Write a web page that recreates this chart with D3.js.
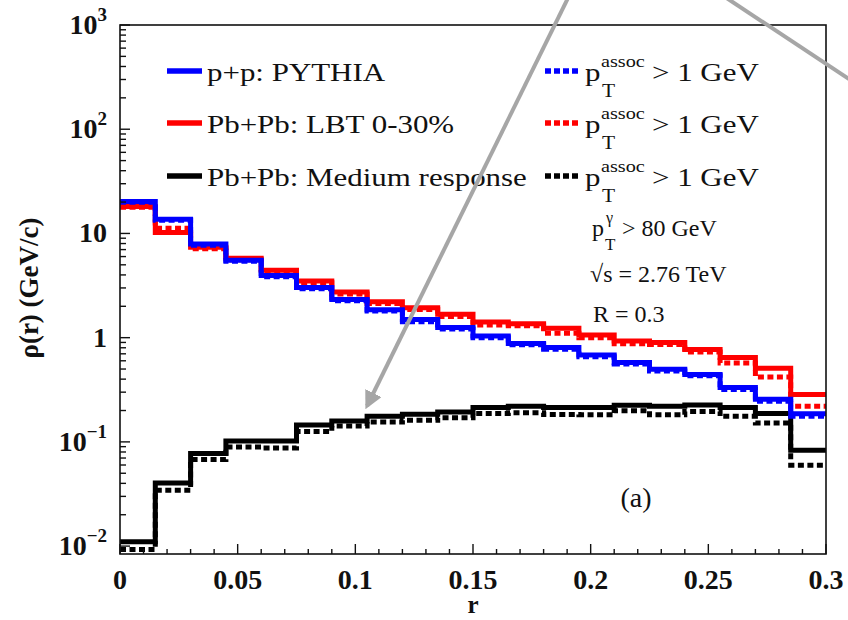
<!DOCTYPE html>
<html>
<head>
  <meta charset="utf-8">
  <script src="https://cdn.jsdelivr.net/npm/d3@7"></script>
  <style type="text/css">
    body { margin: 0; background: #fff; }
    text { font-family: "Liberation Serif", "Times New Roman", serif; fill: #111; }
  </style>
</head>
<body>
<div id="chart"></div>
<script type="text/javascript">
// bin lower edges in r, last edge is rMax
var binLow = [0, 0.015, 0.03, 0.045, 0.06, 0.075, 0.09, 0.105, 0.12, 0.135,
              0.15, 0.165, 0.18, 0.195, 0.21, 0.225, 0.24, 0.255, 0.27, 0.285];
var rMax = 0.3;

var ppSolid  = [20.2, 13.7, 7.9, 5.54, 3.95, 3.03, 2.33, 1.85, 1.49, 1.25,
                1.04, 0.88, 0.805, 0.68, 0.578, 0.499, 0.443, 0.333, 0.257, 0.186];
var ppDotted = [19.9, 13.4, 7.7, 5.4, 3.85, 2.95, 2.26, 1.8, 1.42, 1.21,
                1.0, 0.855, 0.775, 0.655, 0.56, 0.48, 0.43, 0.318, 0.245, 0.176];
var lbtSolid  = [18.1, 10.2, 7.39, 5.79, 4.44, 3.49, 2.75, 2.21, 1.94, 1.68,
                 1.41, 1.36, 1.23, 1.06, 0.93, 0.90, 0.77, 0.645, 0.51, 0.285];
var lbtDotted = [17.8, 11.2, 7.15, 5.6, 4.3, 3.37, 2.63, 2.13, 1.86, 1.6,
                 1.32, 1.30, 1.10, 1.0, 0.875, 0.86, 0.73, 0.57, 0.42, 0.22];
var medSolid  = [0.011, 0.0404, 0.0774, 0.102, 0.102, 0.145, 0.159, 0.176, 0.184, 0.194,
                 0.214, 0.22, 0.214, 0.214, 0.225, 0.22, 0.226, 0.214, 0.187, 0.0833];
var medDotted = [0.0093, 0.0344, 0.0678, 0.0895, 0.0876, 0.126, 0.142, 0.155, 0.161, 0.17,
                 0.187, 0.19, 0.183, 0.182, 0.199, 0.182, 0.196, 0.176, 0.152, 0.0598];

var xMajor = [0, 0.05, 0.1, 0.15, 0.2, 0.25, 0.3];
var xMinor = [0.01, 0.02, 0.03, 0.04, 0.06, 0.07, 0.08, 0.09, 0.11, 0.12, 0.13, 0.14,
              0.16, 0.17, 0.18, 0.19, 0.21, 0.22, 0.23, 0.24, 0.26, 0.27, 0.28, 0.29];
var yMajor = [0.01, 0.1, 1, 10, 100, 1000];
var yExp   = ["\u22122", "\u22121", "", "", "2", "3"];

var legendLeft  = ["p+p: PYTHIA", "Pb+Pb: LBT 0-30%", "Pb+Pb: Medium response"];
var legendColor = ["#0000ff", "#ff0000", "#000000"];

var W = 848, H = 620;
var pL = 120, pR = 826, pT = 25, pB = 554;

var svg = d3.select("#chart").append("svg")
    .attr("width", W).attr("height", H);

var x = d3.scaleLinear().domain([0, rMax]).range([pL, pR]);
var y = d3.scaleLog().domain([0.0084, 1000]).range([pB, pT]);

// step line through bins
var line = d3.line()
    .x(function(d) { return x(d[0]); })
    .y(function(d) { return y(d[1]); })
    .curve(d3.curveStepAfter);

function steps(vals) {
  var pts = binLow.map(function(r, i) { return [r, vals[i]]; });
  pts.push([rMax, vals[vals.length - 1]]);
  return pts;
}

function drawHist(vals, color, dotted) {
  svg.append("path")
    .attr("d", line(steps(vals)))
    .attr("fill", "none")
    .attr("stroke", color)
    .attr("stroke-width", 5)
    .attr("stroke-dasharray", dotted ? "6,3.5" : null);
}

drawHist(medDotted, "#000", true);
drawHist(medSolid, "#000", false);
drawHist(lbtDotted, "#ff0000", true);
drawHist(lbtSolid, "#ff0000", false);
drawHist(ppDotted, "#0000ff", true);
drawHist(ppSolid, "#0000ff", false);

// frame
svg.append("rect")
  .attr("x", pL).attr("y", pT)
  .attr("width", pR - pL).attr("height", pB - pT)
  .attr("fill", "none").attr("stroke", "#111").attr("stroke-width", 1.6);

// x ticks (inward)
svg.selectAll(".xmaj").data(xMajor).enter().append("line")
  .attr("x1", function(d) { return x(d); }).attr("x2", function(d) { return x(d); })
  .attr("y1", pB).attr("y2", pB - 10)
  .attr("stroke", "#111").attr("stroke-width", 1.4);
svg.selectAll(".xmin").data(xMinor).enter().append("line")
  .attr("x1", function(d) { return x(d); }).attr("x2", function(d) { return x(d); })
  .attr("y1", pB).attr("y2", pB - 5)
  .attr("stroke", "#111").attr("stroke-width", 1.4);
svg.selectAll(".xlab").data(xMajor).enter().append("text")
  .attr("x", function(d) { return x(d); }).attr("y", 589)
  .attr("text-anchor", "middle")
  .style("font-size", "28px").style("font-weight", "bold")
  .text(function(d) { return d === 0 ? "0" : String(d); });

// y ticks (inward)
var yMinor = [];
[-3, -2, -1, 0, 1, 2].forEach(function(e) {
  for (var k = 2; k <= 9; k++) {
    var v = k * Math.pow(10, e);
    if (v > y.domain()[0] && v < 1000) yMinor.push(v);
  }
});
svg.selectAll(".ymaj").data(yMajor).enter().append("line")
  .attr("x1", pL).attr("x2", pL + 10)
  .attr("y1", function(d) { return y(d); }).attr("y2", function(d) { return y(d); })
  .attr("stroke", "#111").attr("stroke-width", 1.4);
svg.selectAll(".ymin").data(yMinor).enter().append("line")
  .attr("x1", pL).attr("x2", pL + 6)
  .attr("y1", function(d) { return y(d); }).attr("y2", function(d) { return y(d); })
  .attr("stroke", "#111").attr("stroke-width", 1.4);

yMajor.forEach(function(v, i) {
  var t = svg.append("text")
    .attr("x", 107).attr("y", y(v) + 9)
    .attr("text-anchor", "end")
    .style("font-size", "28px").style("font-weight", "bold");
  if (yExp[i] === "") {
    t.text(v === 1 ? "1" : "10");
  } else {
    t.append("tspan").text("10");
    t.append("tspan").attr("dy", -13).style("font-size", "19px").text(yExp[i]);
  }
});

// axis titles
svg.append("text")
  .attr("transform", "translate(38,288) rotate(-90)")
  .attr("text-anchor", "middle")
  .style("font-size", "27px").style("font-weight", "bold")
  .text("\u03c1(r) (GeV/c)");
svg.append("text")
  .attr("x", 473).attr("y", 613)
  .attr("text-anchor", "middle")
  .style("font-size", "25px").style("font-weight", "bold")
  .text("r");

// legend
var rowY = [71, 123, 176];
legendLeft.forEach(function(lab, i) {
  svg.append("line")
    .attr("x1", 167).attr("x2", 202).attr("y1", rowY[i]).attr("y2", rowY[i])
    .attr("stroke", legendColor[i]).attr("stroke-width", 5.5);
  svg.append("text")
    .attr("transform", "translate(207," + (rowY[i] + 10) + ") scale(1.19,1)")
    .style("font-size", "26px")
    .text(lab);

  svg.append("line")
    .attr("x1", 545).attr("x2", 580).attr("y1", rowY[i]).attr("y2", rowY[i])
    .attr("stroke", legendColor[i]).attr("stroke-width", 5.5)
    .attr("stroke-dasharray", "6,3");
  svg.append("text")
    .attr("transform", "translate(585," + (rowY[i] + 10) + ") scale(1.19,1)")
    .style("font-size", "26px").text("p");
  svg.append("text")
    .attr("transform", "translate(601," + (rowY[i] - 4) + ") scale(1.19,1)")
    .style("font-size", "17px").text("assoc");
  svg.append("text")
    .attr("transform", "translate(602," + (rowY[i] + 26) + ") scale(1.19,1)")
    .style("font-size", "18px").text("T");
  svg.append("text")
    .attr("transform", "translate(652," + (rowY[i] + 10) + ") scale(1.19,1)")
    .style("font-size", "26px").text("> 1 GeV");
});

// annotations
svg.append("text").attr("x", 592).attr("y", 236).style("font-size", "24px").text("p");
svg.append("text").attr("x", 606).attr("y", 223).style("font-size", "16px").text("\u03b3");
svg.append("text").attr("x", 605).attr("y", 250).style("font-size", "17px").text("T");
svg.append("text").attr("x", 622).attr("y", 236).style("font-size", "24px").text("> 80 GeV");
svg.append("text").attr("x", 590).attr("y", 282).style("font-size", "24px").text("\u221as = 2.76 TeV");
svg.append("text").attr("x", 593).attr("y", 322).style("font-size", "24px").text("R = 0.3");
svg.append("text").attr("x", 636).attr("y", 507).attr("text-anchor", "middle")
  .style("font-size", "28px").text("(a)");

// gray overlay arrows
var defs = svg.append("defs");
defs.append("marker")
  .attr("id", "head").attr("viewBox", "0 0 10 10")
  .attr("refX", 8).attr("refY", 5)
  .attr("markerWidth", 4.5).attr("markerHeight", 4.5)
  .attr("orient", "auto")
  .append("path").attr("d", "M0,0 L10,5 L0,10 z").attr("fill", "#a6a6a6");

svg.append("line")
  .attr("x1", 569).attr("y1", -4).attr("x2", 367).attr("y2", 406)
  .attr("stroke", "#a6a6a6").attr("stroke-width", 4)
  .attr("marker-end", "url(#head)");
svg.append("line")
  .attr("x1", 725).attr("y1", -3).attr("x2", 852).attr("y2", 81)
  .attr("stroke", "#a6a6a6").attr("stroke-width", 4);
</script>
</body>
</html>
